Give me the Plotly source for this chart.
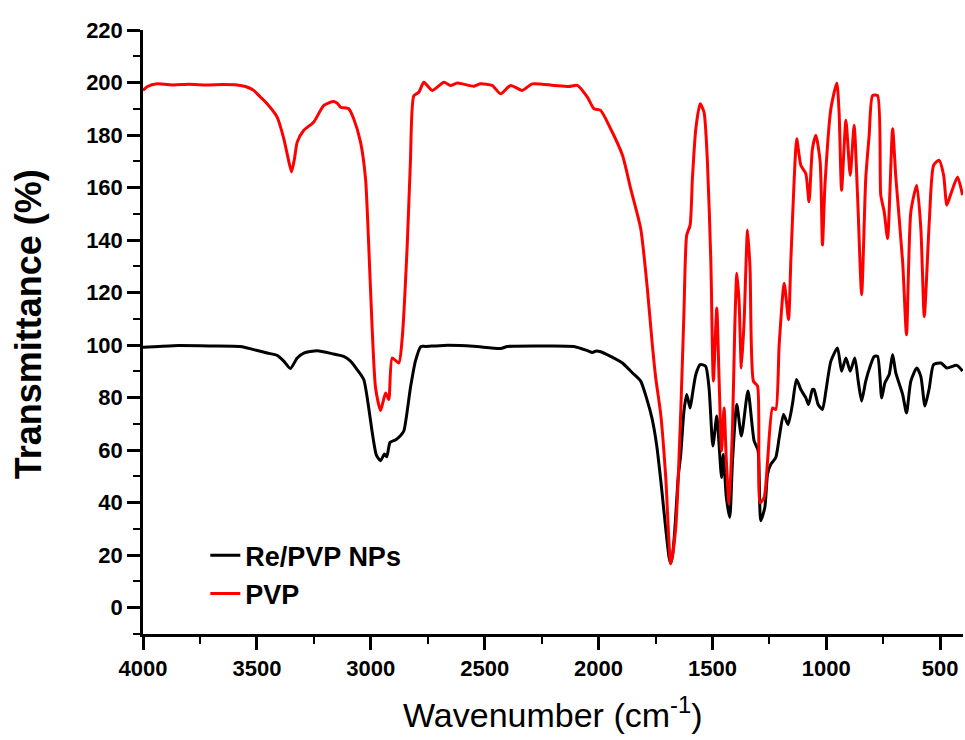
import plotly.graph_objects as go

# FTIR spectra
wn_pvp = [4000, 3980, 3938, 3866, 3800, 3719, 3650, 3587, 3550, 3514, 3485, 3455, 3411, 3382, 3365,
          3348, 3335, 3323, 3294, 3250, 3206, 3163, 3145, 3133, 3110, 3097, 3075, 3045, 3023, 3009,
          2994, 2979, 2957, 2935, 2921, 2906, 2877, 2862, 2840, 2826, 2811, 2789, 2767, 2730, 2679,
          2650, 2620, 2547, 2518, 2467, 2430, 2386, 2335, 2291, 2196, 2130, 2093, 2049, 2020, 1991,
          1947, 1895, 1859, 1815, 1786, 1764, 1749, 1727, 1705, 1683, 1661, 1639, 1625, 1613, 1598,
          1588, 1573, 1554, 1537, 1522, 1507, 1496, 1481, 1471, 1460, 1449, 1439, 1427, 1412, 1402,
          1393, 1383, 1373, 1361, 1346, 1335, 1320, 1302, 1291, 1273, 1258, 1236, 1222, 1207, 1185,
          1166, 1156, 1141, 1130, 1112, 1090, 1076, 1061, 1046, 1027, 1017, 1006, 980, 954, 944,
          933, 914, 895, 878, 863, 845, 827, 812, 797, 775, 761, 746, 731, 709, 695,
          665, 648, 629, 603, 585, 570, 548, 529, 505, 485, 471, 453, 424, 402]
t_pvp = [197, 198.5, 199.5, 199.1, 199.3, 199.1, 199.2, 199.1, 198.5, 197, 194.5, 191.9, 186.8, 178.6, 172,
         166, 171, 177.3, 181.8, 185, 191.3, 192.8, 192, 190.6, 190.3, 190, 186.2, 177.3, 163.4, 138,
         106.5, 83.7, 75.1, 81.8, 79.3, 95.1, 93.2, 102.7, 138, 169.8, 195, 196.3, 200.1, 197, 200.1,
         198.9, 199.8, 198.6, 199.5, 198.9, 195.7, 198.9, 197, 199.5, 198.9, 198.5, 198.9, 194.4, 190, 189.4,
         182.4, 172.3, 159.6, 144.4, 121.7, 100.2, 87.5, 73.6, 49.6, 16.7, 30.6, 74.9, 112.8, 141.9, 145.7,
         163.4, 182.4, 191.9, 188.7, 169.8, 131.8, 86.3, 114.1, 87.5, 59.7, 76.1, 55.9, 39.5, 68.5, 106.5,
         127.4, 116.6, 91.3, 109, 143.8, 129.3, 86.3, 84.4, 40, 42, 55.9, 76.1, 75.5, 100.2, 123.6,
         109.7, 131.8, 163.4, 178.6, 168.5, 165.3, 154.6, 174.8, 179.9, 169.8, 138.1, 161, 190, 199.8, 188.7,
         159, 185.6, 164.7, 183.7, 157.1, 119.2, 163.4, 179.9, 195, 195, 157.1, 150.8, 140.6, 182.4, 164,
         131.8, 104, 150.8, 160.9, 144.4, 110.9, 147, 168.5, 170.4, 164.7, 153.3, 157.7, 164, 157.1]

wn_re = [4000, 3866, 3700, 3572, 3514, 3455, 3411, 3382, 3353, 3323, 3294, 3235, 3163, 3119, 3089,
         3060, 3031, 3009, 2994, 2975, 2957, 2940, 2930, 2915, 2890, 2870, 2855, 2826, 2804, 2780,
         2760, 2679, 2550, 2430, 2400, 2250, 2108, 2049, 2027, 2010, 1991, 1947, 1895, 1851, 1815,
         1790, 1765, 1745, 1725, 1705, 1690, 1683, 1675, 1665, 1650, 1639, 1625, 1613, 1598, 1588,
         1573, 1554, 1530, 1515, 1498, 1481, 1471, 1460, 1452, 1439, 1424, 1412, 1393, 1373, 1344,
         1317, 1300, 1288, 1270, 1258, 1244, 1222, 1207, 1188, 1168, 1149, 1131, 1112, 1090, 1078,
         1061, 1054, 1036, 1017, 1002, 980, 951, 933, 914, 895, 875, 860, 845, 827, 805,
         790, 775, 757, 743, 724, 709, 695, 665, 648, 629, 603, 585, 567, 548, 529,
         497, 471, 427, 402]
t_re = [99.2, 99.8, 99.7, 99.5, 98.3, 97, 96.1, 93.9, 91.1, 95.1, 97, 97.9, 96.6, 95.7, 93.9,
        90.7, 86.9, 76.1, 67, 58, 56, 58.5, 57.5, 63, 64, 65.5, 67.3, 83.7, 93.9, 99.5,
        99.5, 99.9, 99.6, 98.7, 99.5, 99.7, 99.5, 97.9, 97.2, 97.8, 97.5, 95.7, 93.2, 89.4, 86.3,
        80, 72, 62, 47, 30, 19, 17, 20, 30, 50, 58.5, 75, 81.2, 76.1, 81.2,
        88.8, 92.6, 92, 83.7, 61.6, 73, 62.2, 49.6, 58.4, 42, 34.4, 55.9, 77.4, 65.4, 82.5,
        63.5, 60, 33.1, 38.2, 50.9, 54.6, 57.2, 64.7, 73.6, 69.8, 77.4, 86.9, 83.1, 79.9, 77.4,
        83.1, 83.1, 77.4, 75.5, 82.5, 93.9, 98.9, 90.1, 95.1, 90.1, 95.1, 86.3, 78.7, 86.3, 92.6,
        95.7, 95.7, 79.9, 85.6, 88.8, 96.4, 89.4, 81.2, 74.2, 86.3, 91.3, 88, 76.8, 83.7, 92.6,
        93.2, 91.3, 92.3, 90.1]

FONT = "Liberation Sans, Arial, sans-serif"

fig = go.Figure()
fig.add_trace(go.Scatter(x=wn_re, y=t_re, mode='lines', name='Re/PVP NPs',
                         line=dict(color='black', width=3, shape='spline', smoothing=0.6)))
fig.add_trace(go.Scatter(x=wn_pvp, y=t_pvp, mode='lines', name='PVP',
                         line=dict(color='#ff0000', width=3, shape='spline', smoothing=0.6)))

axis_common = dict(showline=True, linecolor='black', linewidth=2.5, showgrid=False, zeroline=False,
                   ticks='outside', ticklen=13, tickwidth=2.5, tickcolor='black', automargin=False,
                   tickfont=dict(family=FONT, size=22, color='black', weight='bold'),
                   ticklabelstandoff=0)

fig.update_xaxes(range=[4000, 400], tick0=0, dtick=500,
                 minor=dict(ticks='outside', ticklen=7, tickwidth=2, tickcolor='black', dtick=250, tick0=0),
                 **axis_common)
fig.update_yaxes(range=[-10, 220], tick0=0, dtick=20,
                 minor=dict(ticks='outside', ticklen=7, tickwidth=2, tickcolor='black', dtick=10, tick0=0),
                 **axis_common)

# axis titles as annotations so they sit exactly where the reference has them
fig.add_annotation(text='Wavenumber (cm<sup>-1</sup>)', xref='paper', yref='paper',
                   x=0.5, y=-0.13, xanchor='center', yanchor='middle', showarrow=False,
                   font=dict(family=FONT, size=34, color='black'))
fig.add_annotation(text='<b>Transmittance (%)</b>', xref='paper', yref='paper',
                   x=-0.14, y=0.513, xanchor='center', yanchor='middle', showarrow=False, textangle=-90,
                   font=dict(family=FONT, size=36, color='black'))

fig.update_layout(width=965, height=740, margin=dict(l=143, r=2, t=30, b=106),
                  plot_bgcolor='white', paper_bgcolor='white',
                  legend=dict(x=0.076, y=0.17, xanchor='left', yanchor='top', bgcolor='rgba(0,0,0,0)',
                              font=dict(family=FONT, size=27, color='black', weight='bold'),
                              tracegroupgap=0))

# drop the browser's default 8px body margin so the figure fills the window
fig.write_html("out.html", config={'displayModeBar': False},
               post_script="document.body.style.margin='0';")
